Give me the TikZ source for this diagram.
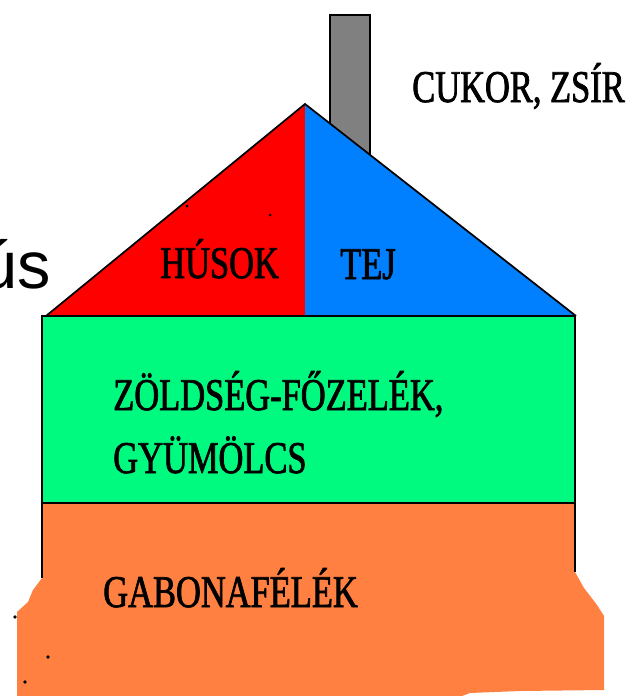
\documentclass[tikz,border=0pt]{standalone}
\usepackage{fontspec}
\newfontfamily\labfont[FakeStretch=0.76, FakeBold=1.6]{Liberation Serif}
\newfontfamily\sansfont{Liberation Sans}
\definecolor{roofred}{RGB}{255,0,0}
\definecolor{roofblue}{RGB}{0,128,255}
\definecolor{wallgreen}{RGB}{0,250,128}
\definecolor{baseorange}{RGB}{255,128,64}
\definecolor{chimneygray}{RGB}{128,128,128}
\tikzset{
  outline/.style={draw=black, line width=1.3pt, line join=miter},
  lab/.style={inner sep=0pt, anchor=base west, font=\labfont\fontsize{34}{40}\selectfont, text=black},
  speck/.style={fill=black, draw=none},
}
\begin{document}
\begin{tikzpicture}[x=0.75pt, y=-0.75pt]
\useasboundingbox (0,0) rectangle (635,696);

% chimney, behind the roof
\filldraw[fill=chimneygray, outline] (330,15) rectangle (370,170);

% roof halves
\fill[roofred] (305,104) -- (46,316) -- (305,316) -- cycle;
\fill[roofblue] (305,104) -- (576,316) -- (305,316) -- cycle;
\draw[outline] (46,316) -- (305,104) -- (576,316);

% ground floor with a rough lower edge
\fill[baseorange] (42,503) -- (575,503) -- (575,572) -- (584,588) -- (597,605) -- (604,616)
  -- (604,690) -- (520,691) -- (470,693) -- (462,696) -- (17,696) -- (17,612) -- (28,602)
  -- (33,590) -- (42,578) -- cycle;
\draw[outline] (42,578) -- (42,503) -- (575,503) -- (575,572);

% middle floor
\filldraw[fill=wallgreen, outline] (42,316) rectangle (575,503);

% small specks
\fill[speck] (187,206) circle (1.5);
\fill[speck] (270,215) circle (1.5);
\fill[speck] (15,617) circle (1.8);
\fill[speck] (48,657) circle (1.8);
\fill[speck] (25,682) circle (1.8);

% labels
\node[lab] (sugar) at (412,102) {CUKOR, ZSÍR};
\node[lab] (meat) at (160,278) {HÚSOK};
\node[lab] (milk) at (340,279) {TEJ};
\node[lab] (veg1) at (113,410) {ZÖLDSÉG-FŐZELÉK,};
\node[lab] (veg2) at (113,473) {GYÜMÖLCS};
\node[lab] (grain) at (103,607) {GABONAFÉLÉK};

% word fragment at the left edge
\node[inner sep=0pt, anchor=base east, font=\sansfont\fontsize{50}{60}\selectfont] (frag) at (51,288) {ús};
\end{tikzpicture}
\end{document}
